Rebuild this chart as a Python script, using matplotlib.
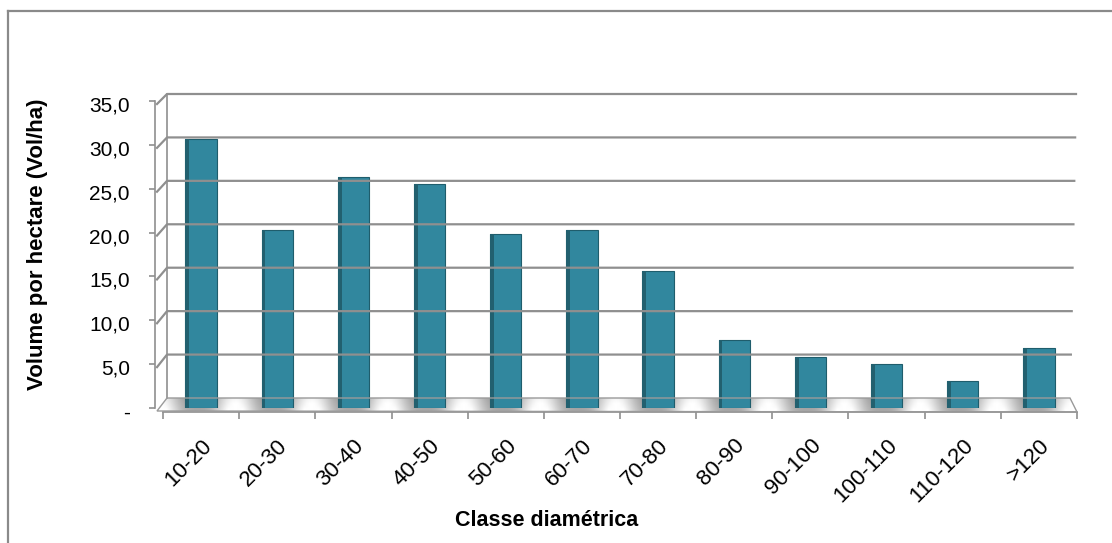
import numpy as np
import matplotlib
matplotlib.use('Agg')
import matplotlib.pyplot as plt
from matplotlib.patches import Polygon
from matplotlib.transforms import IdentityTransform, offset_copy, ScaledTranslation

# Dados
classes = ['10-20', '20-30', '30-40', '40-50', '50-60', '60-70',
           '70-80', '80-90', '90-100', '100-110', '110-120', '>120']
volume = [30.7, 20.3, 26.3, 25.5, 19.8, 20.3, 15.6, 7.7, 5.8, 5.0, 3.1, 6.8]
yticks = [0, 5, 10, 15, 20, 25, 30, 35]
ylabels = ['-', '5,0', '10,0', '15,0', '20,0', '25,0', '30,0', '35,0']

plt.rcParams['font.family'] = ['Liberation Sans', 'DejaVu Sans']

W, H = 1112, 543
fig = plt.figure(figsize=(W / 100, H / 100), dpi=100)
ax = fig.add_axes([163 / W, 1 - 408 / H, 914 / W, 307 / H])
ax.set_xlim(0, len(classes))
ax.set_ylim(0, 35)

grid_c = '#8f8f8f'

# eixo y da frente
for s in ['top', 'right']:
    ax.spines[s].set_visible(False)
ax.spines['left'].set_position(('outward', 6))
ax.spines['bottom'].set_position(('outward', 3))
for s in ['left', 'bottom']:
    ax.spines[s].set_color(grid_c)
    ax.spines[s].set_linewidth(1.2)
ax.set_yticks(yticks)
ax.set_yticklabels(ylabels, fontsize=15)
ax.tick_params(axis='y', length=4, width=1.2, color=grid_c, pad=14)
shift = ScaledTranslation(0, -3 / 100, fig.dpi_scale_trans)
for t in ax.get_yticklabels():
    t.set_transform(t.get_transform() + shift)
ax.set_xticks(range(len(classes) + 1))
ax.set_xticklabels([])
ax.tick_params(axis='x', length=5, width=1.2, color=grid_c)

# pontos em pixels
def px(x, y, dx=0, dy=0):
    p = ax.transData.transform((x, y))
    return (p[0] + dx, p[1] + dy)

n = len(classes)

def back_left(v):
    return px(0, v, 4, 10 - 3 * v / 35)

def back_right(v):
    return px(n, v, -7 + 6 * v / 35, 10 - 3 * v / 35)

# paredes / grade
for v in yticks[1:]:
    pts = [px(0, v, -6, -3), back_left(v), back_right(v)]
    xs, ys = zip(*pts)
    fig.add_artist(plt.Line2D(xs, ys, transform=IdentityTransform(),
                              color=grid_c, lw=1.6, zorder=1))
p0 = back_left(0)
p1 = back_left(35)
fig.add_artist(plt.Line2D([p0[0], p1[0]], [p0[1], p1[1]], transform=IdentityTransform(),
                          color=grid_c, lw=1.2, zorder=1))

# piso com degrade
floor_pts = [px(0, 0, -6, -3), px(n, 0, 0, -4), back_right(0), back_left(0)]
floor = Polygon(floor_pts, closed=True, transform=IdentityTransform(),
                facecolor='none', edgecolor='#9a9a9a', lw=1.0, zorder=2)
fig.add_artist(floor)
gx = np.linspace(-0.3, n + 0.3, 1500)
shade = 0.62 + 0.38 * (0.5 - 0.5 * np.cos(2 * np.pi * (gx - 0.45))) ** 1.5
img = np.vstack([np.minimum(shade * 1.05, 1), shade, shade * 0.95])
im = ax.imshow(img, cmap='gray', vmin=0, vmax=1, aspect='auto',
               extent=(-0.3, n + 0.3, -0.6, 1.5), origin='lower', zorder=1.5,
               interpolation='bilinear')
im.set_clip_box(fig.bbox)
im.set_clip_path(Polygon(floor_pts, closed=True, transform=IdentityTransform()))
ax.set_xlim(0, n)
ax.set_ylim(0, 35)

# barras
x = np.arange(n) + 0.5
bw = 0.41
ax.bar(x, volume, width=bw, color='#31879e', edgecolor='#1f5d6c',
       linewidth=0.8, zorder=3)
ax.bar(x - bw / 2 + 0.025, volume, width=0.05, color='#22606f',
       linewidth=0, zorder=4)

# rótulos das classes
lab_tr = offset_copy(ax.transData, fig=fig, x=0, y=-27, units='dots')
for xi, c in zip(x, classes):
    ax.text(xi, 0, c, transform=lab_tr, rotation=45, ha='right', va='top',
            rotation_mode='anchor', fontsize=16, clip_on=False)

fig.text(547 / W, 1 - 521 / H, 'Classe diamétrica', ha='center', va='center',
         fontsize=15.5, fontweight='bold')
fig.text(38 / W, 1 - 244 / H, 'Volume por hectare (Vol/ha)', ha='center', va='center',
         rotation=90, fontsize=16, fontweight='bold')

# moldura
fig.add_artist(plt.Line2D([7.5 / W, 7.5 / W], [0, 1 - 11 / H], color='#8a8a8a', lw=1.6))
fig.add_artist(plt.Line2D([7.5 / W, 1], [1 - 11 / H, 1 - 11 / H], color='#8a8a8a', lw=1.6))

fig.savefig('out.png', dpi=100)
